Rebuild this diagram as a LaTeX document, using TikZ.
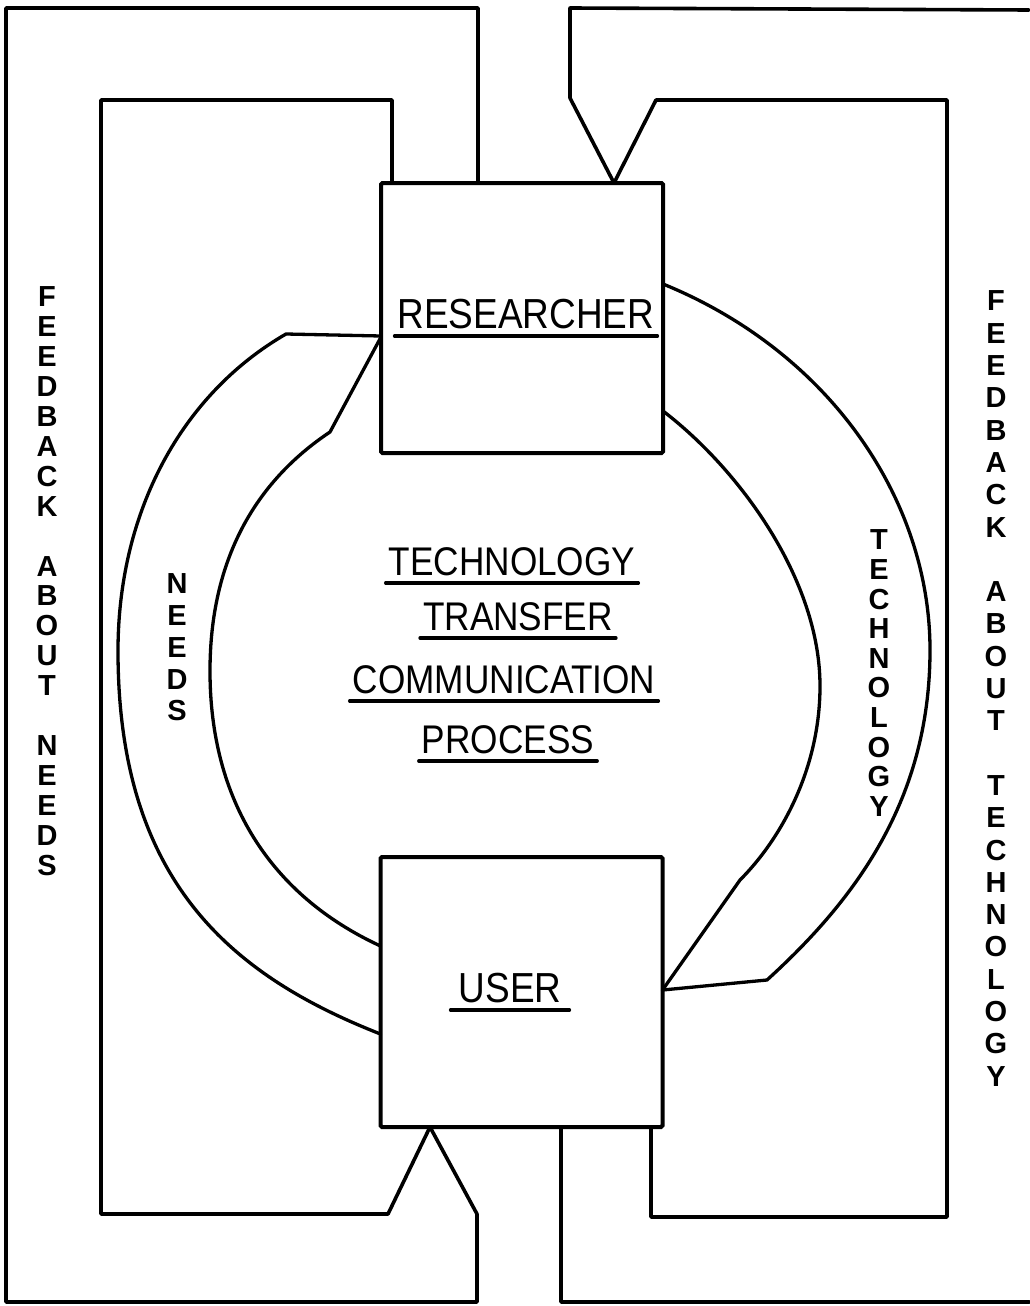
\documentclass[tikz,border=0pt]{standalone}
\usepackage{fontspec}
\newfontfamily\letterfont[FakeStretch=0.88]{Liberation Sans}
\newfontfamily\stackfont{Liberation Sans Bold}
\usetikzlibrary{calc}
\begin{document}
\begin{tikzpicture}[x=1pt,y=-1pt,
  box/.style={draw, line width=4pt, minimum width=282pt, minimum height=270pt,
    inner sep=0pt, outer sep=0pt, rounded corners=1.5pt},
  loopline/.style={line width=3.6pt, line join=round, line cap=round},
  flow/.style={line width=3.3pt, line join=round, line cap=round},
  caption/.style={font=\letterfont\fontsize{40}{40}\selectfont, inner sep=0pt, anchor=base},
  boxcaption/.style={font=\letterfont\fontsize{42}{42}\selectfont, inner sep=0pt, anchor=base},
  stack/.style={font=\stackfont\fontsize{29}{29}\selectfont, inner sep=0pt},
  uline/.style={line width=3.2pt, line cap=round}]

\useasboundingbox (0,0) rectangle (1029,1306);
\fill[white] (0,0) rectangle (1029,1306);

% the two parties
\node[box] (res) at (522,318) {};
\node[box] (usr) at (521.5,992) {};

% feedback loops on the left
\draw[loopline] (res.north -| 478,0) -- (478,8) -- (6,8) -- (6,1302) -- (477,1302)
  -- (477,1214) -- (usr.south -| 430,0);
\draw[loopline] (res.north -| 392,0) -- (392,100) -- (101,100) -- (101,1214)
  -- (388,1214) -- (usr.south -| 430,0);

% feedback loops on the right
\draw[loopline] (1029,10) -- (570,8) -- (570,98) -- (res.north -| 614,0)
  -- (656,100) -- (947,100) -- (947,1217) -- (651,1217) -- (usr.south -| 651,0);
\draw[loopline] (usr.south -| 561,0) -- (561,1302) -- (1029,1302);

% needs channel
\draw[flow] (res.west |- 0,336) -- (286,334)
  .. controls (182,394) and (118,511) .. (118,651)
  .. controls (118,880) and (230,975) .. (usr.west |- 0,1034);
\draw[flow] (res.west |- 0,337) -- (330,432)
  .. controls (255,482) and (210,560) .. (210,671)
  .. controls (210,800) and (270,895) .. (usr.west |- 0,946);

% technology channel
\draw[flow] (res.east |- 0,284)
  .. controls (830,352) and (930,500) .. (930,650)
  .. controls (930,800) and (855,900) .. (767,980) -- (usr.east |- 0,990);
\draw[flow] (res.east |- 0,411)
  .. controls (740,470) and (820,580) .. (820,686)
  .. controls (820,770) and (780,840) .. (740,880) -- (usr.east |- 0,990);

% box captions
\node[boxcaption] (restxt) at (526,328) {RESEARCHER};
\draw[uline] ($(restxt.base west)+(-3,8)$) -- ($(restxt.base east)+(3,8)$);
\node[boxcaption] (usrtxt) at (510,1002) {USER};
\draw[uline] ($(usrtxt.base west)+(-8,8)$) -- ($(usrtxt.base east)+(8,8)$);

% central title
\node[caption] (t1) at (512,575) {TECHNOLOGY};
\node[caption] (t2) at (518,630) {TRANSFER};
\node[caption] (t3) at (504,693) {COMMUNICATION};
\node[caption] (t4) at (508,753) {PROCESS};
\foreach \n in {t1,t2,t3,t4}
  \draw[uline] ($(\n.base west)+(-3,8)$) -- ($(\n.base east)+(3,8)$);

% stacked labels
\foreach \ch [count=\i from 0] in {F,E,E,D,B,A,C,K}
  \node[stack] (fl-\i) at (47,297+29.9*\i) {\ch};
\foreach \ch [count=\i from 9] in {A,B,O,U,T}
  \node[stack] (fl-\i) at (47,297+29.9*\i) {\ch};
\foreach \ch [count=\i from 15] in {N,E,E,D,S}
  \node[stack] (fl-\i) at (47,297+29.9*\i) {\ch};

\foreach \ch [count=\i from 0] in {F,E,E,D,B,A,C,K}
  \node[stack] (fr-\i) at (996,301+32.3*\i) {\ch};
\foreach \ch [count=\i from 9] in {A,B,O,U,T}
  \node[stack] (fr-\i) at (996,301+32.3*\i) {\ch};
\foreach \ch [count=\i from 15] in {T,E,C,H,N,O,L,O,G,Y}
  \node[stack] (fr-\i) at (996,301+32.3*\i) {\ch};

\foreach \ch [count=\i from 0] in {N,E,E,D,S}
  \node[stack] (nd-\i) at (177,584+31.75*\i) {\ch};
\foreach \ch [count=\i from 0] in {T,E,C,H,N,O,L,O,G,Y}
  \node[stack] (tc-\i) at (879,540+29.6*\i) {\ch};
\end{tikzpicture}
\end{document}
